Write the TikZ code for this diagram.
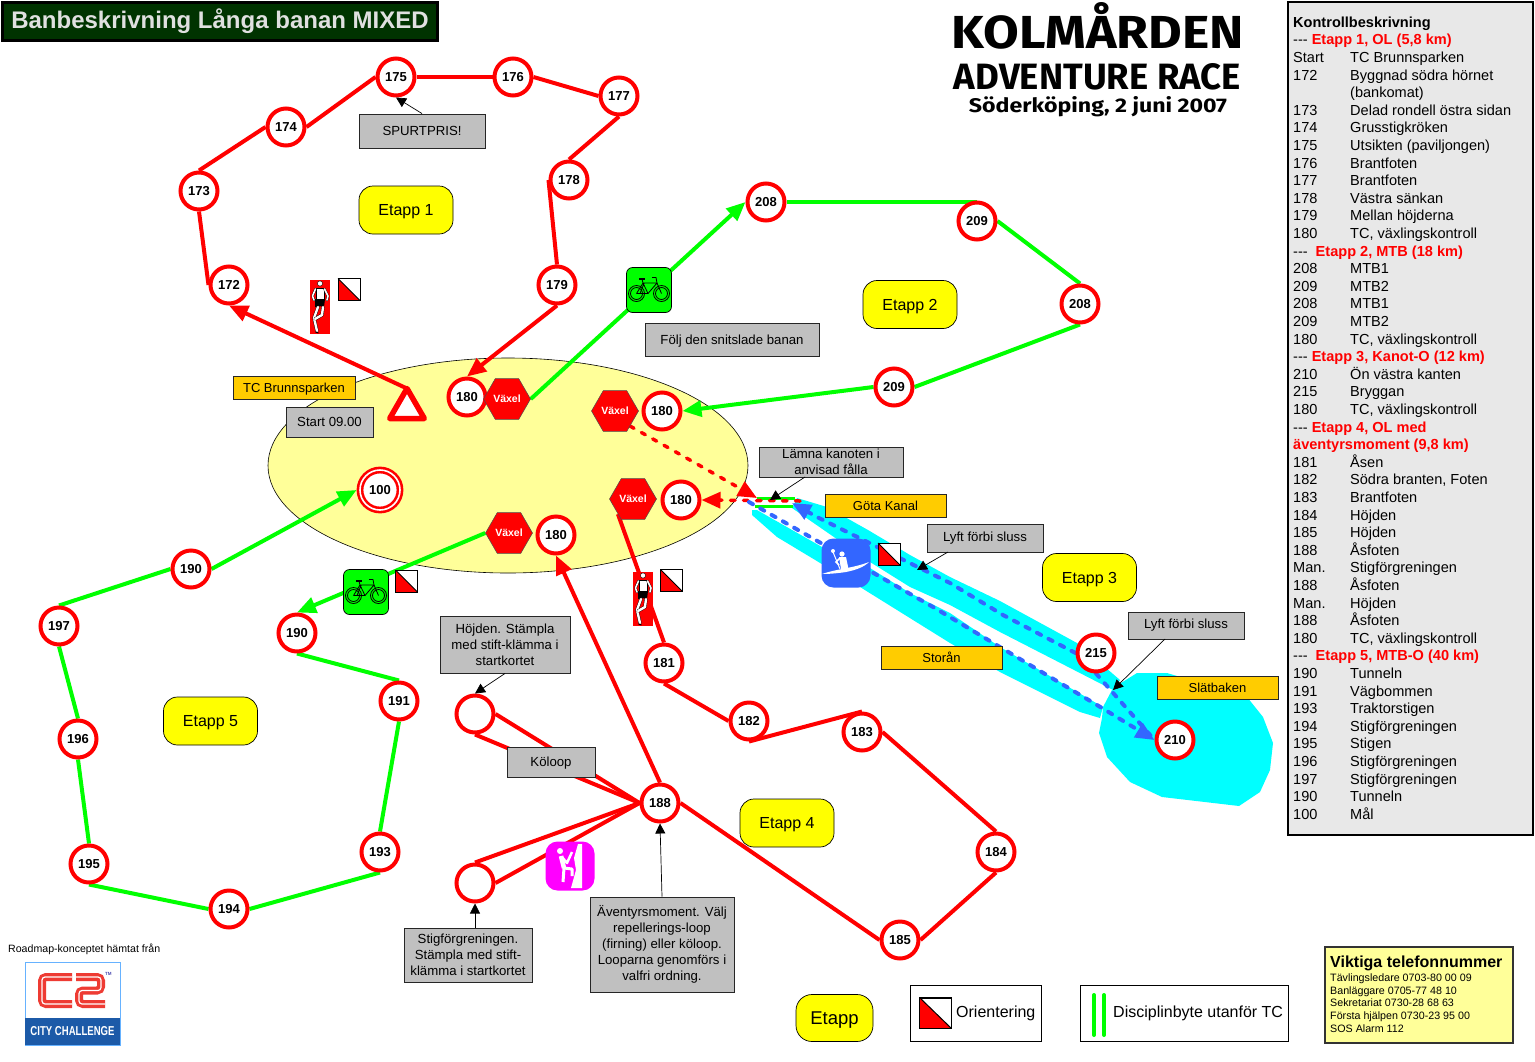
\documentclass[tikz,border=0pt]{standalone}
\usepackage{fontspec}
\setmainfont{Liberation Sans}
\newfontfamily\logofont{Fira Sans}
\usetikzlibrary{arrows.meta,shapes.geometric}
\pgfdeclarelayer{water}
\pgfdeclarelayer{route}
\pgfsetlayers{water,route,main}
\definecolor{rd}{HTML}{FF0000}
\definecolor{grn}{HTML}{00FF00}
\definecolor{blu}{HTML}{3366FF}
\definecolor{cyn}{HTML}{00FFFF}
\definecolor{gry}{HTML}{C0C0C0}
\definecolor{org}{HTML}{FFCC00}
\definecolor{yel}{HTML}{FFFF00}
\definecolor{pal}{HTML}{FFFF99}
\definecolor{mag}{HTML}{FF00FF}
\definecolor{pnl}{HTML}{E8E8E8}
\definecolor{titlebg}{HTML}{003300}
\definecolor{titlefg}{HTML}{E0E0E0}
\definecolor{c2red}{HTML}{EE3B33}
\definecolor{c2blue}{HTML}{1C5AA8}
\newcommand{\fs}[2]{\fontsize{#1}{#2}\selectfont}
\newcommand{\krow}[2]{\makebox[57pt][l]{#1}#2\\}
\newcommand{\ehead}[1]{{-}{-}{-} \textcolor{rd}{\textbf{#1}}\\}
\tikzset{
  ctrl/.style={circle,draw=rd,fill=white,line width=4pt,minimum size=37pt,inner sep=0pt,font=\bfseries\fs{13}{15}},
  vaxel/.style={regular polygon,regular polygon sides=6,draw=black!70,line width=.5pt,fill=rd,minimum size=47pt,inner sep=0pt,text=white,font=\bfseries\fs{10.5}{12}},
  etapp/.style={rounded corners=14pt,draw=black,line width=.7pt,fill=yel,inner sep=0pt,minimum width=94pt,minimum height=48pt,text depth=0pt,font=\fs{16}{18}},
  graybox/.style={draw=black!85,line width=.9pt,fill=gry,inner sep=0pt,align=center,font=\fs{13.2}{16}},
  orgbox/.style={draw=black!85,line width=.9pt,fill=org,inner sep=0pt,minimum width=121pt,minimum height=23pt,font=\fs{13}{15}},
  redline/.style={draw=rd,line width=4pt},
  grnline/.style={draw=grn,line width=4pt},
  bigarrow/.style={-{Triangle[length=19pt,width=16pt]}},
  reddash/.style={draw=rd,line width=3.5pt,dash pattern=on 4.5pt off 8.5pt,line cap=round},
  bludash/.style={draw=blu,line width=4pt,dash pattern=on 4.5pt off 8.5pt,line cap=round},
  callout/.style={draw=black,line width=.7pt,-{Triangle[length=10pt,width=10pt]}},
  iconbox/.style={rounded corners=#1,inner sep=0pt},
  iconbox/.default=6pt,
  flagbox/.style={draw=black,line width=1pt,fill=white,minimum size=22pt,inner sep=0pt},
  runnerbox/.style={fill=rd,minimum width=20pt,minimum height=54pt,inner sep=0pt},
  flagmark/.pic={
    \fill[rd] (-11,-11) -- (11,11) -- (-11,11) -- cycle;
    \draw[black,line width=1pt] (-11,-11) -- (11,11);
    \draw[black,line width=1pt] (-11,-11) rectangle (11,11);
  },
  runnermark/.pic={
    \fill[white,draw=black,line width=.4pt] (0,-23.5) circle (2.6);
    \fill[white,draw=black,line width=.4pt] (-4,-19) -- (4,-19) -- (4,-8) -- (-4,-8) -- cycle;
    \draw[black,line width=2.4pt,line cap=round,line join=round] (-4.5,-18) -- (-7.5,-11) -- (-6,-7);
    \draw[white,line width=1.6pt,line cap=round,line join=round] (-4.5,-18) -- (-7.5,-11) -- (-6,-7);
    \draw[black,line width=2.4pt,line cap=round,line join=round] (4.5,-18) -- (8,-11) -- (7,-7);
    \draw[white,line width=1.6pt,line cap=round,line join=round] (4.5,-18) -- (8,-11) -- (7,-7);
    \fill[black] (-5,-8) -- (5,-8) -- (4,0) -- (-0.5,-1) -- (-1.5,1) -- (-5,0) -- cycle;
    \draw[black,line width=3.2pt,line cap=round,line join=round] (-2,0) -- (-6,11) -- (-3,24);
    \draw[white,line width=2.4pt,line cap=round,line join=round] (-2,0) -- (-6,11) -- (-3,24);
    \draw[black,line width=3.2pt,line cap=round,line join=round] (3,0) -- (2,8) -- (-5,12);
    \draw[white,line width=2.4pt,line cap=round,line join=round] (3,0) -- (2,8) -- (-5,12);
    \draw[black,line width=1pt] (-4.5,25) -- (-1.5,26);
  },
  bikemark/.pic={
    \draw[black,line width=.8pt] (-12.5,3.5) circle (8) (-12.5,3.5) circle (6);
    \draw[black,line width=.8pt] (12.5,3.5) circle (8) (12.5,3.5) circle (6);
    \draw[black,line width=.8pt,line join=round] (-12.5,3.5) -- (-6,-7) -- (8,-7) -- (12.5,3.5) (-12.5,3.5) -- (-1,3.5) -- (8,-7) (-1,3.5) -- (-6,-7) (-5,-6.5) -- (-9,3.5);
    \draw[black,line width=.8pt] (8,-7) -- (7,-12.5) -- (3,-12.5);
    \draw[black,line width=1.4pt] (-10,-11) -- (-4,-11);
    \draw[black,line width=.8pt] (-7,-11) -- (-6,-7);
  },
  kayakmark/.pic={
    \fill[white] (-24,11) .. controls (-10,6) and (8,5) .. (23,-1) .. controls (18,4) and (10,7) .. (0,9) .. controls (-10,10.5) and (-18,11) .. (-24,11) -- cycle;
    \fill[white] (-4,-9) circle (2.6);
    \fill[white] (-7,-6) -- (0,-6) -- (2.5,6) -- (-5,6) -- cycle;
    \draw[white,line width=1pt] (-13,-11) -- (-6,6);
    \fill[white] (-13,-12) circle (2);
    \draw[white,line width=1.6pt] (-6,-5) -- (-10,-1) -- (-7,2);
  },
  climbmark/.pic={
    \fill[white] (8,-22) -- (12,-22) -- (12,22) -- (1,22) -- (6,4) -- (4,-8) -- cycle;
    \fill[white] (-10,-15) circle (3);
    \draw[white,line width=4.5pt] (-9,-10) -- (-6,2);
    \draw[white,line width=2.5pt,line join=round] (-8,-9) -- (-3,-3) -- (2,-14);
    \draw[white,line width=3pt,line join=round] (-6,2) -- (2,3) -- (2,10);
    \draw[white,line width=3pt] (-6,2) -- (-7,16);
  },
}
\begin{document}
\begin{tikzpicture}[x=1pt,y=-1pt]
\useasboundingbox (0,0) rectangle (1535,1061);

% water and the central area
\begin{pgfonlayer}{water}
\fill[white] (0,0) rectangle (1535,1061);
\fill[cyn] (797,498) -- (827,507) -- (868,530) -- (910,555) -- (950,577) -- (1000,601) -- (1077,643) -- (1120,680) -- (1113,690) -- (1000,632) -- (950,605) -- (910,587) -- (870,562) -- (792,508) -- cycle;
\fill[cyn] (752,510) -- (757,510) -- (822,547) -- (870,568) -- (910,593) -- (950,613) -- (1000,647) -- (1103,707) -- (1100,718) -- (1080,712) -- (1000,672) -- (950,643) -- (860,587) -- (777,537) -- (752,515) -- cycle;
\fill[cyn] (1113,688) -- (1137,673) -- (1167,673) -- (1247,697) -- (1263,717) -- (1273,743) -- (1270,770) -- (1260,792) -- (1239,806) -- (1162,797) -- (1130,782) -- (1107,757) -- (1099,733) -- (1102,718) -- (1103,707) -- cycle;
\draw[black,line width=.6pt,fill=pal] (508,465.5) ellipse [x radius=240,y radius=107.5];
\end{pgfonlayer}

% title and logo
\node[draw=black,line width=3pt,fill=titlebg,minimum width=435pt,minimum height=38pt,inner sep=0pt,text=titlefg,font=\bfseries\fs{24}{26}] (title) at (220,21) {Banbeskrivning Långa banan MIXED};
\node[anchor=base,inner sep=0pt,font=\logofont\bfseries] (logoa) at (1098,48) {\resizebox{292pt}{46pt}{KOLMÅRDEN}};
\node[anchor=base,inner sep=0pt,font=\logofont\bfseries] (logob) at (1097.5,89) {\resizebox{287pt}{26pt}{ADVENTURE RACE}};
\node[anchor=base,inner sep=0pt,font=\logofont\bfseries] (logoc) at (1098,112) {\resizebox{258pt}{16pt}{Söderköping, 2 juni 2007}};

% controls
\node[ctrl] (n175) at (396,77) {175};
\node[ctrl] (n176) at (513,77) {176};
\node[ctrl] (n177) at (619,96) {177};
\node[ctrl] (n178) at (569,180) {178};
\node[ctrl] (n179) at (557,285) {179};
\node[ctrl] (n174) at (286,127) {174};
\node[ctrl] (n173) at (199,191) {173};
\node[ctrl] (n172) at (229,285) {172};
\node[ctrl] (n208a) at (766,202) {208};
\node[ctrl] (n209a) at (977,221) {209};
\node[ctrl] (n208b) at (1080,304) {208};
\node[ctrl] (n209b) at (894,387) {209};
\node[ctrl] (n180a) at (467,397) {180};
\node[ctrl] (n180b) at (662,411) {180};
\node[ctrl] (n180c) at (681,500) {180};
\node[ctrl] (n180d) at (556,535) {180};
\node[ctrl] (n190a) at (191,569) {190};
\node[ctrl] (n197) at (59,626) {197};
\node[ctrl] (n196) at (78,739) {196};
\node[ctrl] (n195) at (89,864) {195};
\node[ctrl] (n194) at (229,909) {194};
\node[ctrl] (n193) at (380,852) {193};
\node[ctrl] (n191) at (399,701) {191};
\node[ctrl] (n190b) at (297,633) {190};
\node[ctrl] (n181) at (664,663) {181};
\node[ctrl] (n182) at (749,721) {182};
\node[ctrl] (n183) at (862,732) {183};
\node[ctrl] (n184) at (996,852) {184};
\node[ctrl] (n185) at (900,940) {185};
\node[ctrl] (n188) at (660,803) {188};
\node[ctrl] (n215) at (1096,653) {215};
\node[ctrl] (n210) at (1175,740) {210};
\node[ctrl] (loopa) at (475,714) {};
\node[ctrl] (loopb) at (475,883) {};
\node[circle,draw=rd,double=white,double distance=1.6pt,line width=2.6pt,fill=white,minimum size=40pt,inner sep=0pt,outer sep=3.4pt,font=\bfseries\fs{13}{15}] (n100) at (380,490) {100};
\node[regular polygon,regular polygon sides=3,draw=rd,fill=white,line width=5.5pt,line join=round,minimum size=40pt,inner sep=0pt,outer sep=0pt] (start) at (407,408.5) {};

% change-over hexagons
\node[vaxel] (va) at (507,399) {Växel};
\node[vaxel] (vb) at (615,411) {Växel};
\node[vaxel] (vc) at (633,499) {Växel};
\node[vaxel] (vd) at (509,533) {Växel};

% free ends in the canal
\coordinate (sluA) at (757,498);
\coordinate (sluB) at (795,498);
\coordinate (sluC) at (755,506);
\coordinate (sluD) at (793,506);
\coordinate (drop) at (757,498);
\coordinate (back) at (800,501);
\coordinate (kayakin) at (749,502);
\coordinate (kayakm) at (933,607);
\coordinate (kayakn) at (1097,705);
\coordinate (kayakout) at (792,503);
\coordinate (kayakp) at (817,517);
\coordinate (kayakq) at (950,583);
\coordinate (kayakr) at (1003,615);

% the route, behind the nodes
\begin{pgfonlayer}{route}
\draw[redline,bigarrow] (start.corner 1) -- (n172.south);
\draw[redline,line join=round] (n172.west) -- (n173.south);
\draw[redline] (n173.north) -- (n174.west);
\draw[redline] (n174.east) -- (n175.west);
\draw[redline] (n175.east) -- (n176.west);
\draw[redline] (n176.east) -- (n177.west);
\draw[redline] (n177.south) -- (n178.north);
\draw[redline] (n178.west) -- (n179.north);
\draw[redline,bigarrow] (n179.south) -- (n180a.north);
\draw[grnline,bigarrow] (va.east) -- (n208a.west);
\draw[grnline] (n208a.east) -- (n208a.east -| n209a.north) -- (n209a.north);
\draw[grnline] (n209a.east) -- (n208b.north);
\draw[grnline] (n208b.south) -- (n209b.east);
\draw[grnline,bigarrow] (n209b.west) -- (n180b.east);
\draw[grn,line width=3pt] (sluA) -- (sluB);
\draw[grn,line width=3pt] (sluC) -- (sluD);
\draw[reddash,-{Triangle[length=19pt,width=16pt]}] (vb.south east) -- (drop);
\draw[reddash,-{Triangle[length=19pt,width=16pt]}] (back) -- (n180c.east);
\draw[bludash,-{Triangle[length=19pt,width=16pt]}] (kayakin) -- (kayakm) -- (kayakn) -- (n210.west);
\draw[bludash] (n215.south) -- (n210.west);
\draw[bludash,-{Triangle[length=19pt,width=16pt]}] (n215.west) -- (kayakr) -- (kayakq) -- (kayakp) -- (kayakout);
\draw[redline] (vc.south west) -- (n181.north);
\draw[redline] (n181.south) -- (n182.west);
\draw[redline] (n182.south) -- (n183.north);
\draw[redline] (n183.east) -- (n184.north);
\draw[redline] (n184.south) -- (n185.east);
\draw[redline] (n185.west) -- (n188.east);
\draw[redline,bigarrow] (n188.north) -- (n180d.south);
\draw[redline] (loopa.east) -- (n188.west);
\draw[redline] (loopa.south) -- (n188.west);
\draw[redline] (loopb.north) -- (n188.west);
\draw[redline] (loopb.east) -- (n188.west);
\draw[grnline,bigarrow] (vd.west) -- (n190b.north);
\draw[grnline] (n190b.south) -- (n191.north);
\draw[grnline] (n191.south) -- (n193.north);
\draw[grnline] (n193.south) -- (n194.east);
\draw[grnline] (n194.west) -- (n195.south);
\draw[grnline] (n195.north) -- (n196.south);
\draw[grnline] (n196.north) -- (n197.south);
\draw[grnline] (n197.north) -- (n190a.west);
\draw[grnline,bigarrow] (n190a.east) -- (n100.west);
\end{pgfonlayer}

% etapp labels
\node[etapp] (e1) at (406,210) {Etapp 1};
\node[etapp] (e2) at (910,304.5) {Etapp 2};
\node[etapp] (e3) at (1089.5,577.5) {Etapp 3};
\node[etapp] (e4) at (787,823) {Etapp 4};
\node[etapp] (e5) at (210.5,721) {Etapp 5};
\node[etapp,rounded corners=16pt,minimum width=77pt,minimum height=47pt,font=\fs{18.5}{20}] (eleg) at (834.5,1018) {Etapp};

% grey remarks
\node[graybox,minimum width=126pt,minimum height=34pt] (spurt) at (422,131) {SPURTPRIS!};
\node[graybox,minimum width=174pt,minimum height=33pt,text depth=0pt] (folj) at (732,339.5) {Följ den snitslade banan};
\node[graybox,minimum width=87pt,minimum height=30pt] (start9) at (329.5,422) {Start 09.00};
\node[graybox,minimum width=144pt,minimum height=30pt] (lamna) at (831,462) {Lämna kanoten i\\anvisad fålla};
\node[graybox,minimum width=116pt,minimum height=28pt] (lyfta) at (985,538) {Lyft förbi sluss};
\node[graybox,minimum width=116pt,minimum height=27pt] (lyftb) at (1186,625.5) {Lyft förbi sluss};
\node[graybox,minimum width=130pt,minimum height=57pt] (hojd) at (505,644.5) {Höjden. Stämpla\\med stift-klämma i\\startkortet};
\node[graybox,minimum width=88pt,minimum height=30pt,text depth=0pt] (koloop) at (551,762) {Köloop};
\node[graybox,minimum width=128pt,minimum height=54pt] (stig) at (468,955) {Stigförgreningen.\\Stämpla med stift-\\klämma i startkortet};
\node[graybox,minimum width=144pt,minimum height=95pt] (aven) at (662,944.5) {Äventyrsmoment. Välj\\repellerings-loop\\(firning) eller köloop.\\Looparna genomförs i\\valfri ordning.};

% place names
\node[orgbox,minimum width=122pt,text depth=0pt] (tcb) at (294,387.5) {TC Brunnsparken};
\node[orgbox] (gota) at (885.5,506) {Göta Kanal};
\node[orgbox] (storan) at (941.5,657.5) {Storån};
\node[orgbox] (slat) at (1217.5,687.5) {Slätbaken};

% callout leaders
\coordinate (lamnaout) at (805,477);
\coordinate (lamnatip) at (770,500);
\coordinate (lyftaout) at (948,552);
\coordinate (lyftatip) at (917,570);
\coordinate (lyftbout) at (1165,639);
\coordinate (lyftbtip) at (1113,690);
\draw[callout] (spurt.north) -- (n175.south);
\draw[callout] (lamnaout) -- (lamnatip);
\draw[callout] (lyftaout) -- (lyftatip);
\draw[callout] (lyftbout) -- (lyftbtip);
\draw[callout] (hojd.south) -- (loopa.north);
\draw[callout] (stig.north -| loopb.south) -- (loopb.south);
\draw[callout] (aven.north) -- (n188.south);

% icons
\node[iconbox,fill=grn,draw=black,line width=.7pt,minimum size=45pt] (bikea) at (649,290) {};
\pic at (649,290) {bikemark};
\node[iconbox,fill=grn,draw=black,line width=.7pt,minimum size=45pt] (bikeb) at (366,592) {};
\pic at (366,592) {bikemark};
\node[iconbox=12pt,fill=blu,minimum size=49pt] (kayak) at (846,563) {};
\pic at (846,563) {kayakmark};
\node[iconbox=12pt,fill=mag,minimum size=49pt] (climb) at (570,866) {};
\pic at (570,866) {climbmark};
\node[flagbox] (fa) at (349,289.5) {};
\pic at (349,289.5) {flagmark};
\node[flagbox] (fb) at (406.5,581) {};
\pic at (406.5,581) {flagmark};
\node[flagbox] (fc) at (671.5,580.5) {};
\pic at (671.5,580.5) {flagmark};
\node[flagbox] (fd) at (889,554) {};
\pic at (889,554) {flagmark};
\node[runnerbox] (ra) at (320,307) {};
\pic at (320,307) {runnermark};
\node[runnerbox] (rb) at (643,599) {};
\pic at (643,599) {runnermark};

% control description panel
\node[draw=black,line width=2pt,fill=pnl,minimum width=245pt,minimum height=833pt,inner sep=0pt] (panel) at (1410.5,418.5) {};
\node[anchor=north west,inner sep=0pt,align=left,font=\fs{14.55}{17.6}] (paneltext) at (1293,16.5) {%
\textbf{Kontrollbeskrivning}\\
\ehead{Etapp 1, OL (5,8 km)}
\krow{Start}{TC Brunnsparken}
\krow{172}{Byggnad södra hörnet}
\krow{}{(bankomat)}
\krow{173}{Delad rondell östra sidan}
\krow{174}{Grusstigkröken}
\krow{175}{Utsikten (paviljongen)}
\krow{176}{Brantfoten}
\krow{177}{Brantfoten}
\krow{178}{Västra sänkan}
\krow{179}{Mellan höjderna}
\krow{180}{TC, växlingskontroll}
{-}{-}{-}\hspace{8pt}\textcolor{rd}{\textbf{Etapp 2, MTB (18 km)}}\\
\krow{208}{MTB1}
\krow{209}{MTB2}
\krow{208}{MTB1}
\krow{209}{MTB2}
\krow{180}{TC, växlingskontroll}
\ehead{Etapp 3, Kanot-O (12 km)}
\krow{210}{Ön västra kanten}
\krow{215}{Bryggan}
\krow{180}{TC, växlingskontroll}
\ehead{Etapp 4, OL med}
\textcolor{rd}{\textbf{äventyrsmoment (9,8 km)}}\\
\krow{181}{Åsen}
\krow{182}{Södra branten, Foten}
\krow{183}{Brantfoten}
\krow{184}{Höjden}
\krow{185}{Höjden}
\krow{188}{Åsfoten}
\krow{Man.}{Stigförgreningen}
\krow{188}{Åsfoten}
\krow{Man.}{Höjden}
\krow{188}{Åsfoten}
\krow{180}{TC, växlingskontroll}
{-}{-}{-}\hspace{8pt}\textcolor{rd}{\textbf{Etapp 5, MTB-O (40 km)}}\\
\krow{190}{Tunneln}
\krow{191}{Vägbommen}
\krow{193}{Traktorstigen}
\krow{194}{Stigförgreningen}
\krow{195}{Stigen}
\krow{196}{Stigförgreningen}
\krow{197}{Stigförgreningen}
\krow{190}{Tunneln}
\krow{100}{Mål}
};

% legend
\node[draw=black,line width=.9pt,fill=white,minimum width=131pt,minimum height=56pt,inner sep=0pt] (lego) at (975.5,1013.5) {};
\node[flagbox,minimum width=31pt,minimum height=30pt] (legflag) at (935.5,1013) {};
\fill[rd] (legflag.north west) -- (legflag.south east) -- (legflag.south west) -- cycle;
\draw[black,line width=1pt] (legflag.north west) -- (legflag.south east);
\draw[black,line width=1pt] (legflag.north west) rectangle (legflag.south east);
\node[anchor=west,inner sep=0pt,font=\fs{16}{18}] (legot) at (956,1013) {Orientering};
\node[draw=black,line width=.9pt,fill=white,minimum width=208pt,minimum height=56pt,inner sep=0pt] (legd) at (1184,1013.5) {};
\coordinate (barAt) at (1094,995);
\coordinate (barAb) at (1094,1035);
\coordinate (barBt) at (1104,995);
\coordinate (barBb) at (1104,1035);
\draw[grn,line width=4pt,line cap=round] (barAt) -- (barAb);
\draw[grn,line width=4pt,line cap=round] (barBt) -- (barBb);
\node[anchor=west,inner sep=0pt,font=\fs{16}{18}] (legdt) at (1113,1013) {Disciplinbyte utanför TC};

% phone box
\node[draw=black!80,line width=1.2pt,fill=pal,minimum width=188pt,minimum height=96pt,inner sep=0pt] (tel) at (1419,995) {};
\node[anchor=north west,inner sep=0pt,font=\bfseries\fs{16}{17}] (telt) at (1330,956) {Viktiga telefonnummer};
\node[anchor=north west,inner sep=0pt,align=left,font=\fs{10.7}{12.7}] (tell) at (1330,973.5) {Tävlingsledare 0703-80 00 09\\Banläggare 0705-77 48 10\\Sekretariat 0730-28 68 63\\Första hjälpen 0730-23 95 00\\SOS Alarm 112};

% C2 logo
\node[anchor=west,inner sep=0pt,font=\fs{10.6}{13}] (road) at (8,949) {Roadmap-konceptet hämtat från};
\node[draw=blue!50!cyan!60!white,line width=.8pt,fill=white,minimum width=95pt,minimum height=83pt,inner sep=0pt] (c2box) at (72.5,1003.5) {};
\node[fill=c2blue,minimum width=95pt,minimum height=27pt,inner sep=0pt,text=white,font=\bfseries\fs{11.5}{13}] (c2city) at (72.5,1031.5) {\resizebox{84pt}{9pt}{CITY CHALLENGE}};
\draw[c2red,line width=8pt,rounded corners=4pt] (72,977) -- (42,977) -- (42,1004) -- (72,1004);
\draw[white,line width=1.2pt,rounded corners=3pt] (72,977) -- (42,977) -- (42,1004) -- (72,1004);
\draw[c2red,line width=8pt,rounded corners=4pt] (76,977) -- (101,977) -- (101,990.5) -- (79,990.5) -- (79,1004) -- (105,1004);
\draw[white,line width=1.2pt,rounded corners=3pt] (76,977) -- (101,977) -- (101,990.5) -- (79,990.5) -- (79,1004) -- (105,1004);
\node[anchor=west,inner sep=0pt,text=blue!40!gray,font=\bfseries\fs{4.5}{5}] (tm) at (105,974) {TM};
\end{tikzpicture}
\end{document}
